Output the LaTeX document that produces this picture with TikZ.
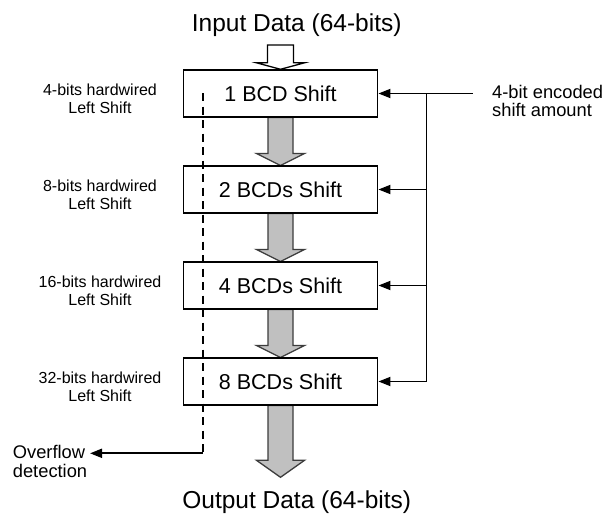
\documentclass[tikz,border=0pt]{standalone}
\usepackage{fontspec}
\setmainfont{Liberation Sans}
\usetikzlibrary{arrows.meta,calc}
\definecolor{arrfill}{RGB}{192,192,192}
\definecolor{arredge}{RGB}{60,60,60}
\begin{document}
\begin{tikzpicture}[x=1pt,y=-1pt,
  box/.style={draw,fill=white,line width=1.9pt,minimum width=194pt,minimum height=47pt,inner sep=0pt,font=\fontsize{21.5}{24}\selectfont},
  side/.style={align=center,anchor=north,inner sep=0pt,font=\fontsize{16}{18.3}\selectfont},
  title/.style={anchor=base,inner sep=0pt,font=\fontsize{24.5}{28}\selectfont},
  bus/.style={line width=1.8pt},
  tip/.style={-{Triangle[length=12pt,width=9pt]}},
  dline/.style={line width=1.6pt,dash pattern=on 8pt off 5.5pt},
  garrow/.style={fill=arrfill,draw=arredge,line width=1.3pt,line join=miter},
  warrow/.style={fill=white,draw=black,line width=1.3pt,line join=miter},
]
\useasboundingbox (0,0) rectangle (606,517);
\fill[white] (0,0) rectangle (606,517);

% titles
\node[title] (inp) at (296.7,31.7) {Input Data (64-bits)};
\node[title] (outp) at (296.7,508) {Output Data (64-bits)};

% box positions
\coordinate (c1) at (280.5,93.5);
\coordinate (c2) at (280.5,189.5);
\coordinate (c3) at (280.5,285.5);
\coordinate (c4) at (280.5,381.5);

% input arrow (outline)
\coordinate (itop) at (280.5,45);
\coordinate (itip) at (280.5,69.3);
\draw[warrow] ($(itop)+(-13,0)$) -- ($(itip)+(-13,-6.5)$) -- ($(itip)+(-24,-6.5)$) -- (itip)
  -- ($(itip)+(24,-6.5)$) -- ($(itip)+(13,-6.5)$) -- ($(itop)+(13,0)$) -- cycle;

% gray arrows between boxes
\foreach \a/\b in {c1/c2,c2/c3,c3/c4}{
  \draw[garrow] ($(\a)+(-12.5,24)$) -- ($(\b)+(-12.5,-36)$) -- ($(\b)+(-24,-36)$) -- ($(\b)+(0,-24)$)
    -- ($(\b)+(24,-36)$) -- ($(\b)+(12.5,-36)$) -- ($(\a)+(12.5,24)$) -- cycle;
}
% output arrow
\coordinate (otip) at (280.5,477.3);
\draw[garrow] ($(c4)+(-12.5,24)$) -- ($(otip)+(-12.5,-17)$) -- ($(otip)+(-24,-17)$) -- (otip)
  -- ($(otip)+(24,-17)$) -- ($(otip)+(12.5,-17)$) -- ($(c4)+(12.5,24)$) -- cycle;

% boxes
\node[box] (b1) at (c1) {1 BCD Shift};
\node[box] (b2) at (c2) {2 BCDs Shift};
\node[box] (b3) at (c3) {4 BCDs Shift};
\node[box] (b4) at (c4) {8 BCDs Shift};

% left labels
\node[side] (l1) at (100,83.3) {4-bits hardwired\\Left Shift};
\node[side] (l2) at (100,179.3) {8-bits hardwired\\Left Shift};
\node[side] (l3) at (100,275.3) {16-bits hardwired\\Left Shift};
\node[side] (l4) at (100,371.3) {32-bits hardwired\\Left Shift};

% shift amount bus
\node[anchor=north west,align=left,inner sep=0pt,font=\fontsize{18.3}{18.3}\selectfont] (amt) at (492,85) {4-bit encoded\\shift amount};
\coordinate (src) at (472.7,93.5);
\coordinate (j1) at (426.5,93.5);
\draw[bus,tip] (src) -- (b1.east);
\draw[bus,tip] (j1) |- (b4.east);
\draw[bus,tip] (j1 |- b2.east) -- (b2.east);
\draw[bus,tip] (j1 |- b3.east) -- (b3.east);

% overflow
\coordinate (dtop) at (202.7,93);
\coordinate (dbot) at (202.7,453.3);
\coordinate (ovf) at (90,453.3);
\draw[dline] (dtop) -- (dbot);
\draw[bus,tip] (dbot) -- (ovf);
\node[anchor=north west,align=left,inner sep=0pt,font=\fontsize{18.3}{19.4}\selectfont] (ovl) at (12.7,445) {Overflow\\detection};
\end{tikzpicture}
\end{document}
